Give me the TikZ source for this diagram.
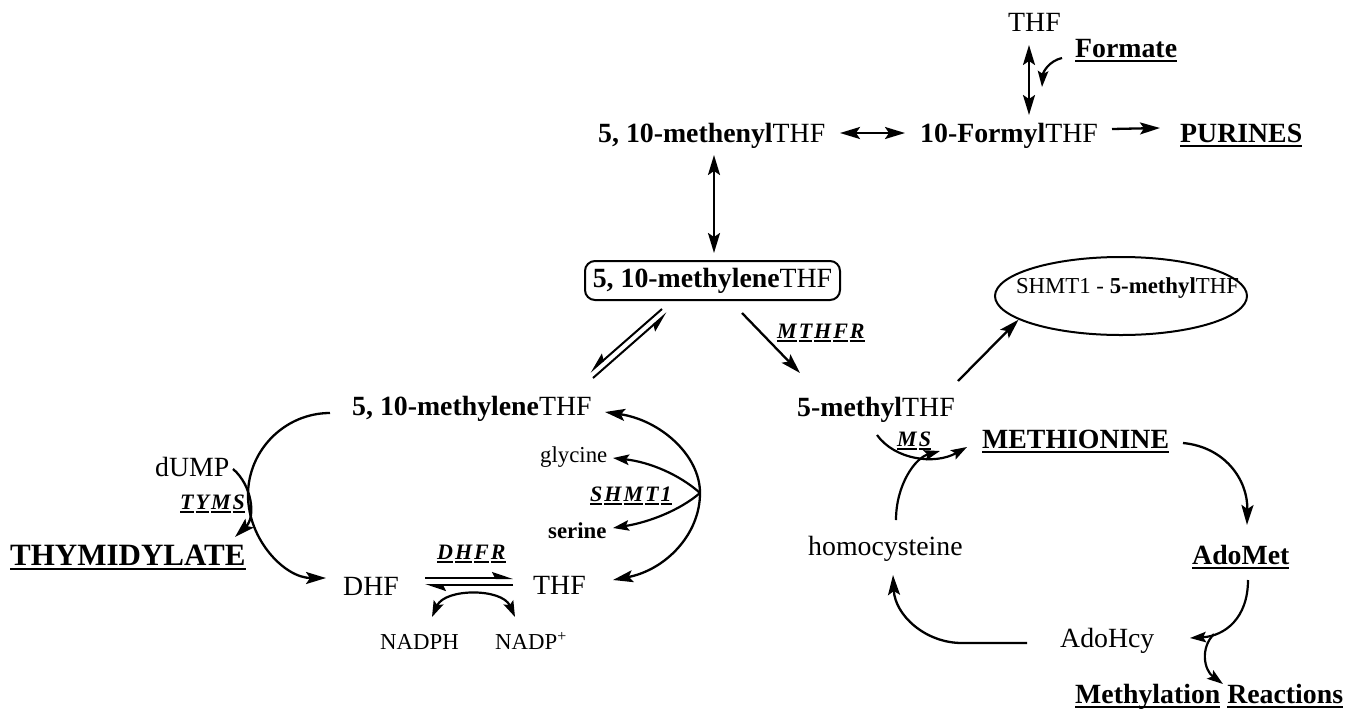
\documentclass[tikz,border=0pt]{standalone}
\usepackage{fontspec}
\setmainfont{Liberation Serif}
\usetikzlibrary{arrows.meta,shapes.geometric}
\newcommand\Ul[1]{\setbox0\hbox{#1}\rlap{\rule[-5pt]{\wd0}{2.4pt}}\box0\relax}
\newcommand\Ue[1]{\setbox0\hbox{#1}\rlap{\rule[-3.8pt]{\wd0}{1.9pt}}\box0\relax}
\tikzset{
  lbl/.style={inner sep=0pt, anchor=base west, font=\fontsize{27.8}{32}\selectfont},
  big/.style={inner sep=0pt, anchor=base west, font=\fontsize{31}{34}\selectfont\bfseries},
  sml/.style={inner sep=0pt, anchor=base west, font=\fontsize{22.8}{26}\selectfont},
  enz/.style={inner sep=0pt, anchor=base west, font=\fontsize{22}{26}\selectfont\bfseries\itshape},
  con/.style={line width=2.3pt, -{Stealth[length=20pt,width=12pt,inset=4pt]}},
  bicon/.style={line width=2.3pt, {Stealth[length=20pt,width=12pt,inset=4pt]}-{Stealth[length=20pt,width=12pt,inset=4pt]}},
  cons/.style={line width=2.2pt, -{Stealth[length=16pt,width=10.5pt,inset=3pt]}},
  bicons/.style={line width=2.2pt, {Stealth[length=16pt,width=10.5pt,inset=3pt]}-{Stealth[length=16pt,width=10.5pt,inset=3pt]}},
  harpL/.style={line width=2pt, -{Stealth[length=18pt,width=12pt,inset=3pt,harpoon,swap]}},
  harpR/.style={line width=2pt, -{Stealth[length=18pt,width=12pt,inset=3pt,harpoon]}},
}
\begin{document}
\begin{tikzpicture}[x=1pt,y=-1pt]
\useasboundingbox (0,0) rectangle (1361,713);
% ---- text nodes
\node[lbl] (thfT) at (1008,31.5) {THF};
\node[lbl] (formate) at (1075,57) {\Ul{\textbf{Formate}}};
\node[lbl] (methenyl) at (598,142) {\textbf{5, 10-methenyl}THF};
\node[lbl] (formyl) at (920,142) {\textbf{10-Formyl}THF};
\node[lbl] (purines) at (1180,142) {\Ul{\textbf{PURINES}}};
\node[draw, rounded corners=10pt, line width=2pt, minimum width=255pt, minimum height=39pt, inner sep=0pt, font=\fontsize{27.8}{32}\selectfont] (box) at (712.5,280.5) {\textbf{5, 10-methylene}THF};
\node[enz] (mthfr) at (777,338) {\Ue{M}\kern2pt\Ue{T}\kern2pt\Ue{H}\kern2pt\Ue{F}\kern2pt\Ue{R}};
\node[lbl] (m5) at (797,416) {\textbf{5-methyl}THF};
\node[draw, ellipse, line width=2pt, minimum width=252pt, minimum height=78pt, inner sep=0pt] (ell) at (1121,296) {};
\node[sml, anchor=base] (elltxt) at (1127.5,293) {SHMT1 - \textbf{5-methyl}THF};
\node[lbl] (methL) at (352,415) {\textbf{5, 10-methylene}THF};
\node[lbl] (dump) at (155,476) {dUMP};
\node[enz] (tyms) at (180,509) {\Ue{T}\kern2pt\Ue{Y}\kern2pt\Ue{M}\kern2pt\Ue{S}};
\node[big] (thym) at (10,565) {\Ul{THYMIDYLATE}};
\node[sml] (gly) at (540,462) {glycine};
\node[enz] (shmt) at (590,501) {\Ue{S}\kern2pt\Ue{H}\kern2pt\Ue{M}\kern2pt\Ue{T}\kern2pt\Ue{1}};
\node[sml] (ser) at (548,538) {\textbf{serine}};
\node[enz] (dhfr) at (437,559) {\Ue{D}\kern2pt\Ue{H}\kern2pt\Ue{F}\kern2pt\Ue{R}};
\node[lbl] (dhf) at (343,595) {DHF};
\node[lbl] (thfL) at (533,594) {THF};
\node[sml] (nadph) at (380,649) {NADPH};
\node[sml] (nadp) at (495,649) {NADP\textsuperscript{+}};
\node[enz] (ms) at (897,446) {\Ue{M}\kern2pt\Ue{S}};
\node[lbl] (met) at (982,448) {\Ul{\textbf{METHIONINE}}};
\node[lbl] (adomet) at (1192,564) {\Ul{\textbf{AdoMet}}};
\node[lbl] (adohcy) at (1060,647) {AdoHcy};
\node[lbl] (homo) at (808,555) {homocysteine};
\node[lbl] (methyl) at (1075,703) {\Ul{\textbf{Methylation}} \Ul{\textbf{Reactions}}};
% ---- connector end points
\coordinate (thfTs) at (1029,45);   \coordinate (formyln) at (1029,115);
\coordinate (formateW) at (1062,58); \coordinate (formateT) at (1042,87);
\coordinate (methenylE) at (840,133); \coordinate (formylW) at (905,133);
\coordinate (formylE) at (1112,129); \coordinate (purinesW) at (1160,128);
\coordinate (methenylS) at (714,155); \coordinate (boxN) at (714,253);
\coordinate (boxSW1) at (662,309); \coordinate (methLNE1) at (590,372);
\coordinate (methLNE2) at (593,378); \coordinate (boxSW2) at (667,313);
\coordinate (boxSE) at (742,313); \coordinate (m5N) at (800,373);
\coordinate (m5NE) at (958,381);
\coordinate (methLW) at (330,413); \coordinate (dhfW) at (326,578);
\coordinate (dumpE) at (233,469); \coordinate (thymNE) at (235,537);
\coordinate (methLE) at (605,412); \coordinate (thfLE) at (613,580);
\coordinate (shmtP) at (700,493);
\coordinate (glyE) at (613,458); \coordinate (serE) at (613,528);
\coordinate (dhfE1) at (425,578); \coordinate (thfLW1) at (513,578);
\coordinate (thfLW2) at (513,585); \coordinate (dhfE2) at (425,585);
\coordinate (nadphN) at (432,617); \coordinate (nadpN) at (515,617);
\coordinate (m5S) at (877,435); \coordinate (metW) at (967,447);
\coordinate (homoN) at (896,520); \coordinate (msJ) at (940,451);
\coordinate (metE) at (1183,443); \coordinate (adometN) at (1247,525);
\coordinate (adometS) at (1248,580); \coordinate (adohcyE) at (1190,638);
\coordinate (split) at (1214,634); \coordinate (methylN) at (1223,684);
\coordinate (adohcyW) at (1027,643); \coordinate (homoS) at (893,575);
% ---- connectors
\draw[bicon] (thfTs) -- (formyln);
\draw[cons] (formateW) .. controls (1049,61) and (1043,72) .. (formateT);
\draw[bicon] (methenylE) -- (formylW);
\draw[con] (formylE) -- (purinesW);
\draw[bicon] (methenylS) -- (boxN);
\draw[harpL] (boxSW1) -- (methLNE1);
\draw[harpL] (methLNE2) -- (boxSW2);
\draw[con] (boxSE) -- (m5N);
\draw[con] (m5NE) -- (ell.193);
\draw[con] (methLW) .. controls (285,413) and (248,450) .. (248,495) .. controls (248,540) and (285,578) .. (dhfW);
\draw[con] (dumpE) .. controls (252,485) and (256,517) .. (thymNE);
\draw[bicon] (methLE) .. controls (660,420) and (700,455) .. (shmtP) .. controls (700,535) and (665,570) .. (thfLE);
\draw[cons] (shmtP) .. controls (680,475) and (650,462) .. (glyE);
\draw[cons] (shmtP) .. controls (680,510) and (650,522) .. (serE);
\draw[harpR] (dhfE1) -- (thfLW1);
\draw[harpR] (thfLW2) -- (dhfE2);
\draw[bicons] (nadphN) .. controls (445,588) and (502,588) .. (nadpN);
\draw[cons] (m5S) .. controls (895,460) and (935,465) .. (metW);
\draw[cons] (homoN) .. controls (896,485) and (915,458) .. (msJ);
\draw[con] (metE) .. controls (1225,447) and (1248,480) .. (adometN);
\draw[cons] (adometS) .. controls (1248,618) and (1225,636) .. (adohcyE);
\draw[cons] (split) .. controls (1200,648) and (1204,670) .. (methylN);
\draw[con] (adohcyW) -- (962,643) .. controls (925,643) and (895,615) .. (homoS);
\end{tikzpicture}
\end{document}
